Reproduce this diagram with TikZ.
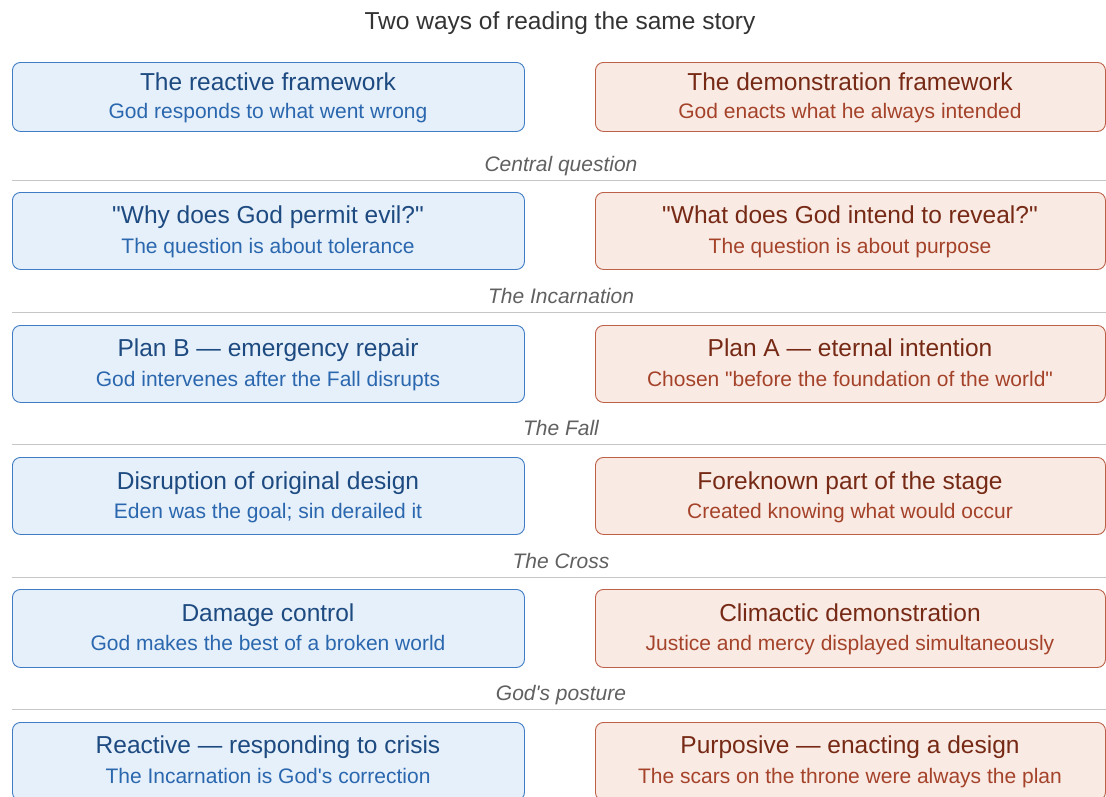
\documentclass[tikz,border=0pt]{standalone}
\usepackage{fontspec}
\setmainfont{Liberation Sans}
\definecolor{blueFill}{HTML}{E6F0FA}
\definecolor{blueLine}{HTML}{3F7CC4}
\definecolor{blueHead}{HTML}{1D4A80}
\definecolor{blueSub}{HTML}{2A67AE}
\definecolor{redFill}{HTML}{FAEAE4}
\definecolor{redLine}{HTML}{BC6048}
\definecolor{redHead}{HTML}{762A15}
\definecolor{redSub}{HTML}{A4432A}
\definecolor{labelGrey}{HTML}{606060}
\definecolor{ruleGrey}{HTML}{C6C6C6}
\definecolor{titleGrey}{HTML}{333333}
\newcommand{\dq}{\textquotedbl}
\newcommand{\sq}{\textquotesingle}
\tikzset{
  x=1pt, y=-1pt,
  card/.style={draw, line width=0.9pt, rounded corners=8pt, inner sep=0pt},
  leftcard/.style={card, fill=blueFill, draw=blueLine, minimum width=512pt},
  rightcard/.style={card, fill=redFill, draw=redLine, minimum width=510pt},
  headtxt/.style={anchor=base, inner sep=0pt, font=\fontsize{24.5}{28}\selectfont},
  subtxt/.style={anchor=base, inner sep=0pt, font=\fontsize{21}{25}\selectfont},
  sectlabel/.style={anchor=base, inner sep=0pt, text=labelGrey, font=\fontsize{21}{25}\selectfont\itshape},
  divider/.style={draw=ruleGrey, line width=1pt},
}
\begin{document}
\begin{tikzpicture}
\useasboundingbox (0,0) rectangle (1106,796);
\clip (0,0) rectangle (1106,796);

\node[anchor=base, inner sep=0pt, text=titleGrey, font=\fontsize{24.5}{28}\selectfont] (title) at (560,29) {Two ways of reading the same story};

% one row: #1 name, #2 top, #3 height, #4 head offset, #5 sub offset,
% #6 left head, #7 left sub, #8 right head, #9 right sub
\newcommand{\cardrow}[9]{%
  \node[leftcard, anchor=north west, minimum height=#3 pt] (#1L) at (12,#2) {};
  \node[rightcard, anchor=north west, minimum height=#3 pt] (#1R) at (595,#2) {};
  \node[headtxt, text=blueHead] (#1Lh) at (268,#2+#4) {#6};
  \node[subtxt, text=blueSub] (#1Ls) at (268,#2+#5) {#7};
  \node[headtxt, text=redHead] (#1Rh) at (850,#2+#4) {#8};
  \node[subtxt, text=redSub] (#1Rs) at (850,#2+#5) {#9};
}
% divider rule with its italic caption
\newcommand{\divrule}[3]{%
  \coordinate (#1a) at (12,#2);
  \coordinate (#1b) at (1106,#2);
  \draw[divider] (#1a) -- (#1b);
  \node[sectlabel] (#1t) at (561,#2-9) {#3};
}

\cardrow{frame}{62}{69}{28}{56}{The reactive framework}{God responds to what went wrong}{The demonstration framework}{God enacts what he always intended}

\divrule{s1}{180}{Central question}
\cardrow{quest}{192}{77}{31}{61}{\dq Why does God permit evil?\dq}{The question is about tolerance}{\dq What does God intend to reveal?\dq}{The question is about purpose}

\divrule{s2}{312}{The Incarnation}
\cardrow{incar}{325}{77}{31}{61}{Plan B — emergency repair}{God intervenes after the Fall disrupts}{Plan A — eternal intention}{Chosen \dq before the foundation of the world\dq}

\divrule{s3}{444}{The Fall}
\cardrow{fall}{457}{77}{32}{61}{Disruption of original design}{Eden was the goal; sin derailed it}{Foreknown part of the stage}{Created knowing what would occur}

\divrule{s4}{577}{The Cross}
\cardrow{cross}{589}{78}{32}{61}{Damage control}{God makes the best of a broken world}{Climactic demonstration}{Justice and mercy displayed simultaneously}

\divrule{s5}{709}{God\sq s posture}
\cardrow{post}{722}{78}{31}{61}{Reactive — responding to crisis}{The Incarnation is God\sq s correction}{Purposive — enacting a design}{The scars on the throne were always the plan}
\end{tikzpicture}
\end{document}
